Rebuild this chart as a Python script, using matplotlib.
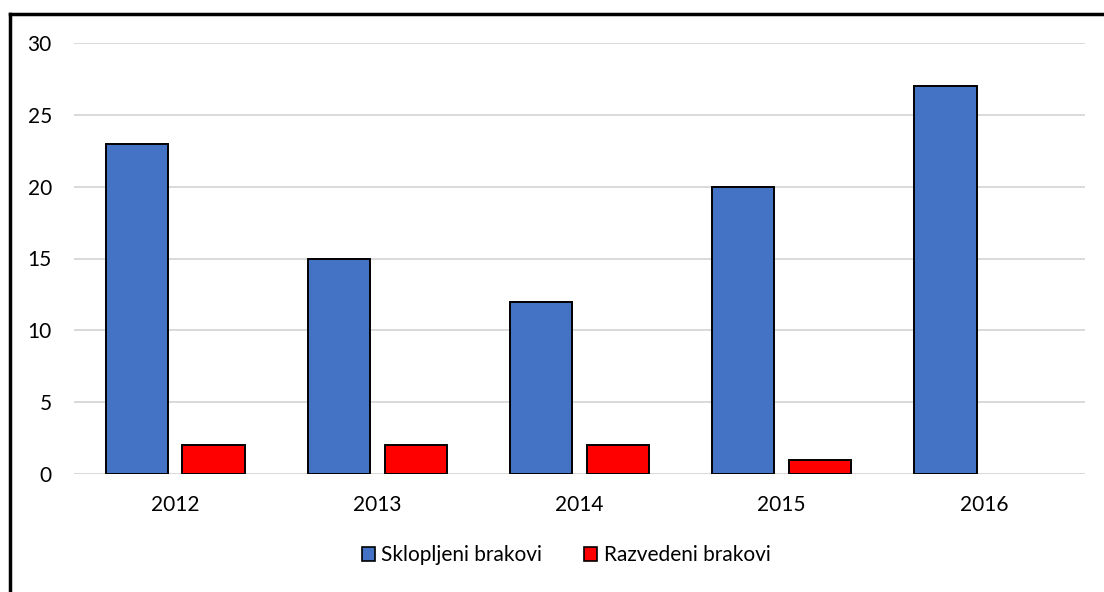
import matplotlib
matplotlib.use("Agg")
import matplotlib.pyplot as plt
import numpy as np
from matplotlib.patches import Rectangle
from matplotlib.lines import Line2D

years = ["2012", "2013", "2014", "2015", "2016"]
sklopljeni = [23, 15, 12, 20, 27]
razvedeni = [2, 2, 2, 1, 0]
series_names = ["Sklopljeni brakovi", "Razvedeni brakovi"]
yticks = [0, 5, 10, 15, 20, 25, 30]

plt.rcParams['font.family'] = ['Lato', 'DejaVu Sans']

fig = plt.figure(figsize=(11.04, 5.92), dpi=100)
ax = fig.add_axes([74/1104, 1-474/592, 1011/1104, 431/592])

x = np.arange(len(years))
w = 0.307
off = 0.19
blue = "#4472C4"
red = "#FF0000"
ax.bar(x - off, sklopljeni, w, color=blue, edgecolor="black", linewidth=1.4, zorder=3)
ax.bar(x + off, [v if v > 0 else np.nan for v in razvedeni], w, color=red, edgecolor="black", linewidth=1.4, zorder=3)

ax.set_xlim(-0.5, len(years) - 0.5)
ax.set_ylim(0, 30)
ax.set_yticks(yticks)
ax.set_xticks(x)
ax.set_xticklabels(years)
ax.tick_params(axis='both', length=0, labelsize=15, colors="#000000")
ax.tick_params(axis='y', pad=16)
ax.tick_params(axis='x', pad=15)
for s in ax.spines.values():
    s.set_visible(False)
ax.yaxis.grid(True, color="#D9D9D9", linewidth=1.4, zorder=0)
ax.set_axisbelow(True)

# Figure border (top and left only visible)
fig.add_artist(Line2D([10/1104, 1], [1-14/592, 1-14/592], color="black", linewidth=2.5, transform=fig.transFigure))
fig.add_artist(Line2D([10/1104, 10/1104], [0, 1-14/592], color="black", linewidth=2.5, transform=fig.transFigure))

handles = [Rectangle((0, 0), 1, 1, facecolor=blue, edgecolor="black", linewidth=1.2),
           Rectangle((0, 0), 1, 1, facecolor=red, edgecolor="black", linewidth=1.2)]
fig.legend(handles, series_names, loc="center", bbox_to_anchor=(566/1104, 1-555/592),
           ncol=2, frameon=False, fontsize=15, handlelength=0.65, handleheight=0.65,
           handletextpad=0.3, columnspacing=2.0)

fig.savefig("out.png", dpi=100)
